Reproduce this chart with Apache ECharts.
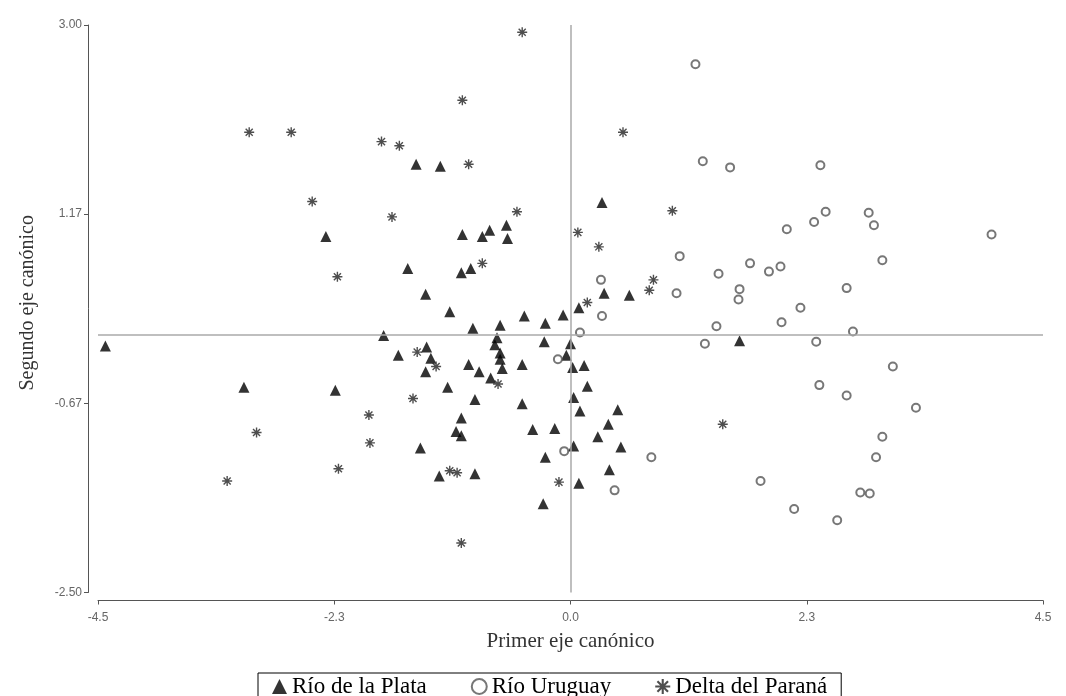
<!DOCTYPE html>
<html>
<head>
<meta charset="utf-8">
<script src="https://cdn.jsdelivr.net/npm/echarts@6/dist/echarts.min.js"></script>
<style>
  html, body { margin: 0; padding: 0; background: #ffffff; }
  #chart { width: 1066px; height: 696px; }
</style>
</head>
<body>
<div id="chart"></div>
<script>
// ---- Data ----
const seriesNames = ['Río de la Plata', 'Río Uruguay', 'Delta del Paraná'];

const rioDeLaPlata = [
  [-1.47, 1.65], [-1.24, 1.63], [-2.33, 0.95], [-1.55, 0.64], [-1.03, 0.97],
  [-0.84, 0.95], [-0.77, 1.01], [-0.61, 1.06], [-0.60, 0.93], [-1.04, 0.60],
  [-0.95, 0.64], [-1.38, 0.39], [-1.15, 0.22], [-0.44, 0.18], [-0.24, 0.11],
  [-0.07, 0.19], [0.30, 1.28], [0.32, 0.40], [0.56, 0.38], [0.08, 0.26],
  [-0.93, 0.06], [-0.67, 0.09], [-0.70, -0.03], [-0.72, -0.10], [-0.67, -0.18],
  [-0.67, -0.24], [-0.65, -0.33], [-1.78, -0.01], [-1.64, -0.20], [-1.37, -0.12],
  [-1.33, -0.23], [-1.38, -0.36], [-1.17, -0.51], [-0.97, -0.29], [-0.87, -0.36],
  [-0.76, -0.42], [-0.91, -0.63], [-1.04, -0.81], [-1.09, -0.94], [-1.04, -0.98],
  [-1.43, -1.10], [-1.25, -1.37], [-0.91, -1.35], [-0.46, -0.29], [-0.25, -0.07],
  [0.00, -0.09], [-0.04, -0.20], [0.02, -0.32], [0.13, -0.30], [0.16, -0.50],
  [-0.46, -0.67], [0.03, -0.61], [0.09, -0.74], [0.45, -0.73], [0.36, -0.87],
  [0.26, -0.99], [0.48, -1.09], [0.03, -1.08], [-0.36, -0.92], [-0.15, -0.91],
  [-0.24, -1.19], [0.37, -1.31], [0.08, -1.44], [-0.26, -1.64], [-4.43, -0.11],
  [-3.11, -0.51], [-2.24, -0.54], [1.61, -0.06]
];

const rioUruguay = [
  [1.19, 2.62], [1.26, 1.68], [1.52, 1.62], [2.38, 1.64], [2.43, 1.19],
  [2.32, 1.09], [2.84, 1.18], [2.89, 1.06], [4.01, 0.97], [2.06, 1.02],
  [1.71, 0.69], [1.89, 0.61], [2.00, 0.66], [1.41, 0.59], [2.97, 0.72],
  [1.61, 0.44], [1.60, 0.34], [2.63, 0.45], [2.19, 0.26], [1.39, 0.08],
  [2.01, 0.12], [2.69, 0.03], [2.34, -0.07], [3.07, -0.31], [2.37, -0.49],
  [2.63, -0.59], [3.29, -0.71], [2.97, -0.99], [2.91, -1.19], [1.81, -1.42],
  [2.76, -1.53], [2.85, -1.54], [2.13, -1.69], [2.54, -1.80], [1.04, 0.76],
  [1.01, 0.40], [0.29, 0.53], [0.30, 0.18], [0.09, 0.02], [-0.12, -0.24],
  [-0.06, -1.13], [0.77, -1.19], [0.42, -1.51], [1.28, -0.09]
];

const deltaParana = [
  [-3.06, 1.96], [-2.66, 1.96], [-1.80, 1.87], [-1.63, 1.83], [-0.46, 2.93],
  [-1.03, 2.27], [-0.97, 1.65], [-2.46, 1.29], [-1.70, 1.14], [-0.51, 1.19],
  [-2.22, 0.56], [0.50, 1.96], [0.97, 1.20], [0.07, 0.99], [0.27, 0.85],
  [0.79, 0.53], [0.75, 0.43], [0.16, 0.31], [-0.84, 0.69], [-1.46, -0.17],
  [-1.28, -0.31], [-0.69, -0.48], [-1.50, -0.62], [-1.92, -0.78], [-1.91, -1.05],
  [-1.15, -1.32], [-1.08, -1.34], [-1.04, -2.02], [-0.11, -1.43], [1.45, -0.87],
  [-2.99, -0.95], [-2.21, -1.30], [-3.27, -1.42]
];

const xTicks = [-4.5, -2.25, 0, 2.25, 4.5];
const yTicks = [-2.5, -0.6667, 1.1667, 3.0];
const xTitle = 'Primer eje canónico';
const yTitle = 'Segundo eje canónico';

// ---- Styling ----
const asteriskPath = 'path://M-0.7,-5 L0.7,-5 L0.7,5 L-0.7,5 Z ' +
  'M-5,-0.7 L5,-0.7 L5,0.7 L-5,0.7 Z ' +
  'M-3.04,-4.03 L4.03,3.04 L3.04,4.03 L-4.03,-3.04 Z ' +
  'M4.03,-3.04 L-3.04,4.03 L-4.03,3.04 L3.04,-4.03 Z';

const axisGray = '#555';
const serif = '"Liberation Serif", "DejaVu Serif", serif';

const chart = echarts.init(document.getElementById('chart'), null, { renderer: 'canvas' });

const option = {
  animation: false,
  backgroundColor: '#ffffff',
  grid: { left: 98, right: 23, top: 25, bottom: 103.5, containLabel: false },
  xAxis: {
    type: 'value', min: -4.5, max: 4.5, offset: 8,
    splitLine: { show: false },
    axisLine: { onZero: false, lineStyle: { color: axisGray, width: 1 } },
    axisTick: { show: true, customValues: xTicks, length: 4, lineStyle: { color: axisGray } },
    axisLabel: {
      customValues: xTicks, color: '#666', fontSize: 12, margin: 11,
      fontFamily: 'Arial, "Liberation Sans", sans-serif',
      formatter: v => (Math.round(v * 10 + (v > 0 ? 0.001 : -0.001)) / 10).toFixed(1)
    },
    name: xTitle, nameLocation: 'middle', nameGap: 30,
    nameTextStyle: { fontFamily: serif, fontSize: 21, color: '#333' }
  },
  yAxis: {
    type: 'value', min: -2.5, max: 3.0, offset: 10,
    splitLine: { show: false },
    axisLine: { onZero: false, lineStyle: { color: axisGray, width: 1 } },
    axisTick: { show: true, customValues: yTicks, length: 4, lineStyle: { color: axisGray } },
    axisLabel: {
      customValues: yTicks, color: '#666', fontSize: 12, margin: 6,
      fontFamily: 'Arial, "Liberation Sans", sans-serif',
      formatter: v => v.toFixed(2)
    },
    name: yTitle, nameLocation: 'middle', nameGap: 50, nameRotate: 90,
    nameTextStyle: { fontFamily: serif, fontSize: 20, color: '#333', padding: [0, 0, 0, 12] }
  },
  legend: {
    top: 673, left: 258,
    itemGap: 44, itemWidth: 15, itemHeight: 15,
    borderColor: '#000', borderWidth: 1, padding: [2, 14, 8, 14],
    textStyle: { fontFamily: serif, fontSize: 23, color: '#000' },
    data: [
      { name: seriesNames[0], icon: 'triangle' },
      { name: seriesNames[1], icon: 'emptyCircle' },
      { name: seriesNames[2], icon: asteriskPath }
    ]
  },
  series: [
    {
      name: seriesNames[0], type: 'scatter', data: rioDeLaPlata,
      symbol: 'triangle', symbolSize: 11,
      itemStyle: { color: '#000' }, z: 3,
      markLine: {
        silent: true, symbol: ['none', 'none'], label: { show: false },
        lineStyle: { color: '#aaa', width: 1.5, type: 'solid' },
        emphasis: { disabled: true },
        data: [{ xAxis: 0 }, { yAxis: 0 }]
      }
    },
    {
      name: seriesNames[1], type: 'scatter', data: rioUruguay,
      symbol: 'emptyCircle', symbolSize: 8,
      itemStyle: { color: '#555', borderColor: '#555', borderWidth: 1.5 }, z: 3
    },
    {
      name: seriesNames[2], type: 'scatter', data: deltaParana,
      symbol: asteriskPath, symbolSize: 10,
      itemStyle: { color: '#222' }, z: 3
    }
  ]
};

chart.setOption(option);
</script>
</body>
</html>
